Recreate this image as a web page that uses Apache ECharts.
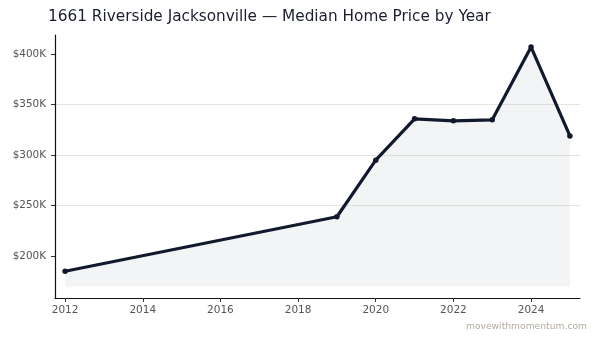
<!DOCTYPE html>
<html>
<head>
<meta charset="utf-8">
<script src="https://cdn.jsdelivr.net/npm/echarts@6/dist/echarts.min.js"></script>
<style>html,body{margin:0;padding:0;background:#fff}#c{width:599px;height:343px}</style>
</head>
<body>
<div id="c"></div>
<script>
const years = [2012, 2019, 2020, 2021, 2022, 2023, 2024, 2025];
const prices = [185000, 239000, 295000, 336000, 334000, 335000, 407000, 319000];
const yTicks = [200000, 250000, 300000, 350000, 400000];
const xTicks = [2012, 2014, 2016, 2018, 2020, 2022, 2024];
const fillBase = 170000;

const chart = echarts.init(document.getElementById('c'), null, {renderer: 'canvas'});
const font = 'DejaVu Sans';
chart.setOption({
  animation: false,
  backgroundColor: '#ffffff',
  title: {
    text: '1661 Riverside Jacksonville — Median Home Price by Year',
    left: 43, top: 5,
    textStyle: {fontFamily: font, fontSize: 15.3, fontWeight: 'normal', color: '#1a1f2e'}
  },
  graphic: [{
    type: 'text', right: 12, top: 322,
    style: {text: 'movewithmomentum.com', fill: '#b3aa9c', font: '9.2px "DejaVu Sans"'}
  }],
  grid: {left: 55, top: 35, right: 19, bottom: 45},
  xAxis: {
    type: 'value', min: 2011.74, max: 2025.26, interval: 2,
    axisLine: {show: true, onZero: false, lineStyle: {color: '#111', width: 1.2}},
    axisTick: {show: true, length: 4, lineStyle: {color: '#333'},
      customValues: xTicks},
    axisLabel: {fontFamily: font, fontSize: 10.5, color: '#555', margin: 7,
      customValues: xTicks, formatter: v => String(v)},
    splitLine: {show: false}
  },
  yAxis: {
    type: 'value', min: 158500, max: 419000,
    axisLine: {show: true, onZero: false, lineStyle: {color: '#111', width: 1.2}},
    axisTick: {show: true, length: 4, lineStyle: {color: '#333'}, customValues: yTicks},
    axisLabel: {fontFamily: font, fontSize: 10.4, color: '#555', margin: 9,
      customValues: yTicks, formatter: v => '$' + Math.round(v / 1000) + 'K'},
    splitLine: {show: true, showMinLine: false, showMaxLine: false,
      lineStyle: {color: '#e6e5dc', width: 1}}
  },
  series: [{
    type: 'line',
    data: years.map((y, i) => [y, prices[i]]),
    symbol: 'circle', symbolSize: 5.5,
    lineStyle: {color: '#111a2c', width: 3.2},
    itemStyle: {color: '#111a2c'},
    areaStyle: {color: 'rgba(196,202,212,0.3)', origin: fillBase},
    z: 3
  }]
});
</script>
</body>
</html>
